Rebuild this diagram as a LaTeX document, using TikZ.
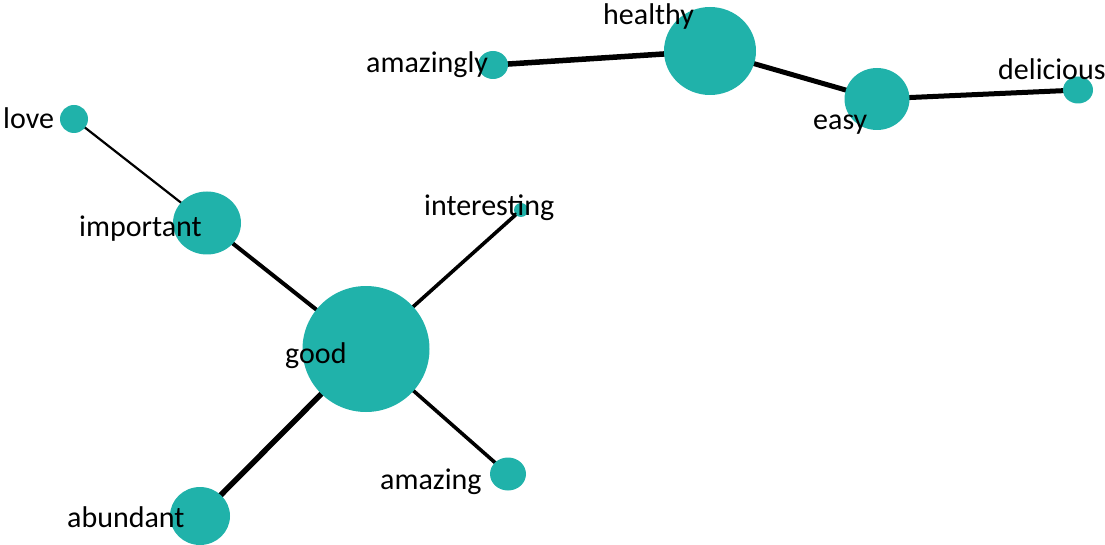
\documentclass[tikz,border=0pt]{standalone}
\usepackage{fontspec}
\setmainfont{Carlito}
\usetikzlibrary{shapes.geometric,backgrounds}
\definecolor{teal1}{HTML}{20B2AA}
\tikzset{
  vert/.style={ellipse, fill=teal1, draw=none, inner sep=0pt},
  lbl/.style={anchor=base west, inner sep=0pt, font=\fontsize{30}{32}\selectfont},
  edge/.style={draw=black, line cap=butt}
}
\begin{document}
\begin{tikzpicture}[x=1pt,y=-1pt]
\useasboundingbox (0,0) rectangle (1105,545);
% vertices
\node[vert, minimum width=28pt, minimum height=28pt] (love) at (74,119) {};
\node[vert, minimum width=68pt, minimum height=63pt] (important) at (207,223) {};
\node[vert, minimum width=127pt, minimum height=126pt] (good) at (366,349) {};
\node[vert, minimum width=14pt, minimum height=14pt] (interesting) at (521,210) {};
\node[vert, minimum width=36pt, minimum height=33pt] (amazing) at (508,474) {};
\node[vert, minimum width=60pt, minimum height=58pt] (abundant) at (200,516) {};
\node[vert, minimum width=30pt, minimum height=28pt] (amazingly) at (493,65) {};
\node[vert, minimum width=92pt, minimum height=88pt] (healthy) at (710,51) {};
\node[vert, minimum width=65pt, minimum height=62pt] (easy) at (877,99) {};
\node[vert, minimum width=30pt, minimum height=27pt] (delicious) at (1078,90) {};
% edges
\begin{scope}[on background layer]
\draw[edge, line width=2.2pt] (love.center) -- (important.center);
\draw[edge, line width=4pt] (important.center) -- (good.center);
\draw[edge, line width=3.6pt] (good.center) -- (interesting.center);
\draw[edge, line width=3.6pt] (good.center) -- (amazing.center);
\draw[edge, line width=5.5pt] (good.center) -- (abundant.center);
\draw[edge, line width=5.5pt] (amazingly.center) -- (healthy.center);
\draw[edge, line width=5pt] (healthy.center) -- (easy.center);
\draw[edge, line width=5pt] (easy.center) -- (delicious.center);
\end{scope}
% labels
\node[lbl] (tlove) at (3,129) {love};
\node[lbl] (timportant) at (79,237) {important};
\node[lbl] (tgood) at (285,363) {good};
\node[lbl] (tinteresting) at (424,216) {interesting};
\node[lbl] (tamazing) at (380,489) {amazing};
\node[lbl] (tabundant) at (67,527) {abundant};
\node[lbl] (tamazingly) at (366,73) {amazingly};
\node[lbl] (thealthy) at (603,25) {healthy};
\node[lbl] (teasy) at (813,130) {easy};
\node[lbl] (tdelicious) at (998,80) {delicious};
\end{tikzpicture}
\end{document}
